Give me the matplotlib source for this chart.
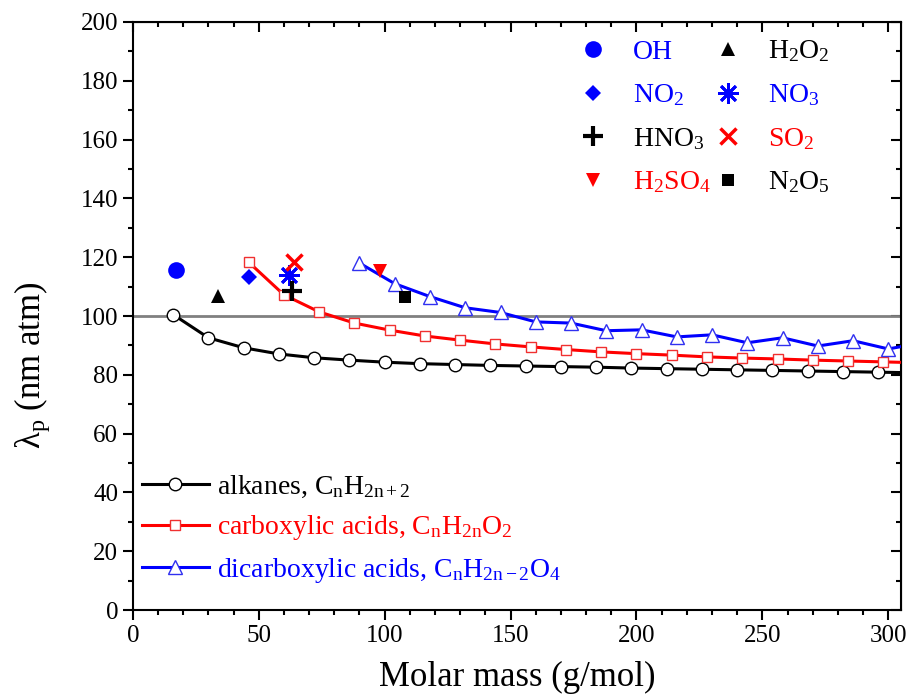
import matplotlib
matplotlib.use("Agg")
import matplotlib.pyplot as plt
from matplotlib.ticker import MultipleLocator

plt.rcParams['font.family'] = ['Liberation Serif', 'DejaVu Serif']
plt.rcParams['font.serif'] = ['Liberation Serif', 'DejaVu Serif']
plt.rcParams['mathtext.fontset'] = 'custom'
plt.rcParams['mathtext.rm'] = 'Liberation Serif'
plt.rcParams['mathtext.it'] = 'Liberation Serif:italic'

# ---- data ----
alk_mass = [16, 30, 44, 58, 72, 86, 100, 114, 128, 142, 156, 170, 184, 198, 212, 226, 240, 254, 268, 282, 296, 310]
alk_lam = [100.5, 92.6, 89.2, 87.1, 85.8, 85.0, 84.3, 83.8, 83.5, 83.2, 83.0, 82.8, 82.6, 82.3, 82.1, 81.9, 81.7, 81.5, 81.3, 81.1, 80.9, 80.7]

carb_mass = [46, 60, 74, 88, 102, 116, 130, 144, 158, 172, 186, 200, 214, 228, 242, 256, 270, 284, 298, 312]
carb_lam = [118.3, 107.2, 101.4, 97.6, 95.2, 93.2, 91.8, 90.5, 89.5, 88.6, 87.8, 87.2, 86.7, 86.1, 85.7, 85.4, 85.0, 84.7, 84.4, 84.1]

dicarb_mass = [90, 104, 118, 132, 146, 160, 174, 188, 202, 216, 230, 244, 258, 272, 286, 300, 314]
dicarb_lam = [118.0, 111.0, 106.6, 102.8, 101.2, 98.0, 97.6, 95.0, 95.3, 92.9, 93.6, 90.9, 92.6, 89.8, 91.6, 88.8, 91.0]

species = ['OH', 'H2O2', 'NO2', 'NO3', 'HNO3', 'SO2', 'H2SO4', 'N2O5']
species_labels = ['OH', 'H$_2$O$_2$', 'NO$_2$', 'NO$_3$', 'HNO$_3$', 'SO$_2$', 'H$_2$SO$_4$', 'N$_2$O$_5$']
species_mass = [17, 34, 46, 62, 63, 64, 98, 108]
species_lam = [115.6, 106.9, 113.3, 114.0, 108.6, 118.5, 115.3, 106.3]

series_labels = ['alkanes, C$_\\mathregular{n}$H$_\\mathregular{2n+2}$',
                 'carboxylic acids, C$_\\mathregular{n}$H$_\\mathregular{2n}$O$_\\mathregular{2}$',
                 'dicarboxylic acids, C$_\\mathregular{n}$H$_\\mathregular{2n-2}$O$_\\mathregular{4}$']

# ---- styles ----
sp_style = {
    'OH':    dict(marker='o', color='#0000ff', ms=12, mew=0),
    'H2O2':  dict(marker='^', color='black', ms=10, mew=0),
    'NO2':   dict(marker='D', color='#0000ff', ms=8, mew=0),
    'NO3':   dict(marker=(8, 2, 0), color='#0000ff', ms=15, mew=2),
    'HNO3':  dict(marker='+', color='black', ms=14, mew=3),
    'SO2':   dict(marker='x', color='#ff0000', ms=12, mew=2.5),
    'H2SO4': dict(marker='v', color='#ff0000', ms=10, mew=0),
    'N2O5':  dict(marker='s', color='black', ms=8, mew=0),
}
sp_text_color = {'OH': '#0000ff', 'H2O2': 'black', 'NO2': '#0000ff', 'NO3': '#0000ff',
                 'HNO3': 'black', 'SO2': '#ff0000', 'H2SO4': '#ff0000', 'N2O5': 'black'}

fig = plt.figure(figsize=(9.10, 6.98), dpi=100)
ax = fig.add_axes([0.146, 0.126, 0.844, 0.8425])

ax.axhline(100, color='#808080', lw=2, zorder=1)

l1, = ax.plot(alk_mass, alk_lam, '-', color='black', lw=2.2, marker='o', ms=9,
              mfc='white', mec='black', mew=1.0, zorder=3)
l2, = ax.plot(carb_mass, carb_lam, '-', color='#ff0000', lw=2.2, marker='s', ms=7.5,
              mfc='white', mec='#f03030', mew=1.0, zorder=3)
l3, = ax.plot(dicarb_mass, dicarb_lam, '-', color='#0000ff', lw=2.2, marker='^', ms=9.5,
              mfc='white', mec='#3030f0', mew=1.0, zorder=3)

sp_handles = []
for name, m, v in zip(species, species_mass, species_lam):
    st = sp_style[name]
    h, = ax.plot([m], [v], linestyle='none', marker=st['marker'], color=st['color'],
                 ms=st['ms'], mew=st['mew'], zorder=4)
    sp_handles.append(h)

ax.set_xlim(0, 305)
ax.set_ylim(0, 200)
ax.xaxis.set_major_locator(MultipleLocator(50))
ax.xaxis.set_minor_locator(MultipleLocator(10))
ax.yaxis.set_major_locator(MultipleLocator(20))
ax.yaxis.set_minor_locator(MultipleLocator(10))

for s in ax.spines.values():
    s.set_linewidth(1.5)
ax.tick_params(which='both', direction='out', top=False, right=False, width=1.5,
               labelsize=18, labelfontfamily='Liberation Serif')
ax.tick_params(which='major', length=7)
ax.tick_params(which='minor', length=3.5)
ax2 = ax.secondary_xaxis('top')
ax2.xaxis.set_major_locator(MultipleLocator(50))
ax2.xaxis.set_minor_locator(MultipleLocator(10))
ax2.tick_params(which='both', direction='in', width=1.5, labeltop=False)
ax2.tick_params(which='major', length=7)
ax2.tick_params(which='minor', length=3.5)
ay2 = ax.secondary_yaxis('right')
ay2.yaxis.set_major_locator(MultipleLocator(20))
ay2.yaxis.set_minor_locator(MultipleLocator(10))
ay2.tick_params(which='both', direction='in', width=1.5, labelright=False)
ay2.tick_params(which='major', length=7)
ay2.tick_params(which='minor', length=3.5)

ax.set_xlabel('Molar mass (g/mol)', fontsize=25, labelpad=10)
ax.set_ylabel('λ$_\\mathregular{p}$ (nm atm)', fontsize=25)
ax.yaxis.set_label_coords(-0.105, 0.417)

# order for 2-column legend (column-major fill)
order = [0, 2, 4, 6, 1, 3, 5, 7]
leg1 = ax.legend([sp_handles[i] for i in order], [species_labels[i] for i in order],
                 ncol=2, loc='upper left', bbox_to_anchor=(0.559, 1.0), frameon=False,
                 fontsize=20, handlelength=1.0, handletextpad=0.95, columnspacing=0.1,
                 labelspacing=0.64, borderaxespad=0.2)
for i, t in zip(order, leg1.get_texts()):
    t.set_color(sp_text_color[species[i]])
ax.add_artist(leg1)

leg2 = ax.legend([l1, l2, l3], series_labels, loc='lower left', bbox_to_anchor=(-0.01, 0.015),
                 frameon=False, fontsize=20, handlelength=2.4, handletextpad=0.3,
                 labelspacing=0.48, borderaxespad=0.3, borderpad=0.3)
for t, c in zip(leg2.get_texts(), ['black', '#ff0000', '#0000ff']):
    t.set_color(c)

fig.savefig('out.png', dpi=100)
